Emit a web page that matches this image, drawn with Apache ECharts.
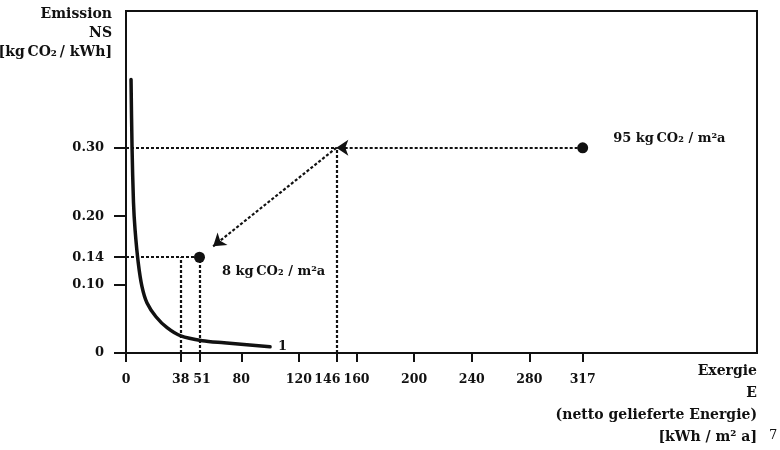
<!DOCTYPE html>
<html><head><meta charset="utf-8">
<script src="https://cdn.jsdelivr.net/npm/echarts@6/dist/echarts.min.js"></script>
<style>html,body{margin:0;padding:0;background:#fff}#c{width:780px;height:450px}</style>
</head><body><div id="c"></div>
<script>
// x-axis tick values (Exergie, kWh/m²a)
var xTicks = [0, 38, 51, 80, 120, 146, 160, 200, 240, 280, 317];
// y-axis tick values (Emission, kg CO2/kWh)
var yTicks = [0, 0.10, 0.14, 0.20, 0.30];
// curve "1": emission factor vs. exergy
var curveX = [3.5, 4.2, 5.2, 6.3, 8.5, 11.1, 14.6, 20.8, 28.5, 38, 53, 68, 100];
var curveY = [0.40, 0.30, 0.22, 0.18, 0.132, 0.097, 0.073, 0.053, 0.037, 0.025, 0.018, 0.015, 0.009];
// the two marked states
var pointX = [317, 51];
var pointY = [0.30, 0.14];
var pointLabels = ['95 kg\u2009CO\u2082 / m\u00b2a', '8 kg\u2009CO\u2082 / m\u00b2a'];
// guide lines
var guideFrom = [[0, 0.30], [146, 0], [0, 0.14], [38, 0], [51, 0]];
var guideTo   = [[146, 0.30], [146, 0.30], [51, 0.14], [38, 0.14], [51, 0.14]];
// arrows
var arrowFrom = [[317, 0.30], [146, 0.30]];
var arrowTo   = [[146, 0.30], [51, 0.14]];

var FONT = 'DejaVu Serif';
var INK = '#111';
var chart = echarts.init(document.getElementById('c'));

var curveData = curveX.map(function (x, i) { return [x, curveY[i]]; });
var guides = guideFrom.map(function (f, i) { return { coords: [f, guideTo[i]] }; });
var arrows = arrowFrom.map(function (f, i) {
  var t = arrowTo[i];
  var k = i === 1 ? 0.9 : 1; // stop short of the dot
  return { coords: [f, [f[0] + (t[0] - f[0]) * k, f[1] + (t[1] - f[1]) * k]] };
});

chart.setOption({
  animation: false,
  grid: { left: 126, right: 23, top: 11, bottom: 97, show: true, borderColor: INK, borderWidth: 2, outerBoundsMode: 'none' },
  xAxis: {
    type: 'value', min: 0, max: 438,
    splitLine: { show: false },
    axisLine: { show: true, onZero: false, lineStyle: { color: INK, width: 2 } },
    axisTick: { show: true, length: 9, lineStyle: { color: INK, width: 2 }, customValues: xTicks },
    axisLabel: { customValues: xTicks, margin: 20, color: INK, fontFamily: FONT, fontWeight: 'bold', fontSize: 12.5,
      formatter: function (v) {
        if (v === 146) return '{l|146}';
        if (v === 51) return '{r|51}';
        return String(v);
      },
      rich: {
        l: { padding: [0, 18, 0, 0], fontFamily: FONT, fontWeight: 'bold', fontSize: 12.5, color: INK },
        r: { padding: [0, 0, 0, 5], fontFamily: FONT, fontWeight: 'bold', fontSize: 12.5, color: INK }
      } }
  },
  yAxis: {
    type: 'value', min: 0, max: 0.5,
    splitLine: { show: false },
    axisLine: { show: true, onZero: false, lineStyle: { color: INK, width: 2 } },
    axisTick: { show: true, length: 12, lineStyle: { color: INK, width: 2 }, customValues: yTicks },
    axisLabel: { customValues: yTicks, margin: 22, color: INK, fontFamily: FONT, fontWeight: 'bold', fontSize: 13,
      formatter: function (v) { return v === 0 ? '0' : v.toFixed(2); } }
  },
  series: [
    { type: 'lines', coordinateSystem: 'cartesian2d', silent: true, symbol: ['none', 'none'],
      lineStyle: { color: INK, width: 2.2, type: [3, 2], opacity: 1 }, data: guides, z: 2 },
    { type: 'lines', coordinateSystem: 'cartesian2d', silent: true, symbol: ['none', 'arrow'], symbolSize: 12,
      lineStyle: { color: INK, width: 2.2, type: [3, 2], opacity: 1 }, data: arrows, z: 3 },
    { type: 'line', data: curveData, smooth: 0.3, symbol: 'none', z: 4,
      lineStyle: { color: INK, width: 3.5, join: 'round', cap: 'round' },
      endLabel: { show: true, formatter: '1', color: INK, fontFamily: FONT, fontWeight: 'bold', fontSize: 13, distance: 8 } },
    { type: 'scatter', symbolSize: 11, z: 5, itemStyle: { color: INK, opacity: 1 },
      data: pointX.map(function (x, i) {
        return { value: [x, pointY[i]], label: { show: true, formatter: pointLabels[i], position: 'right',
          offset: i === 0 ? [20, -9] : [12, 14], opacity: 1,
          color: INK, fontFamily: FONT, fontWeight: 'bold', fontSize: 13 } };
      }) }
  ],
  graphic: [
    { type: 'text', x: 112, y: 5, style: { text: 'Emission\nNS\n[kg\u2009CO\u2082\u2009/ kWh]', textAlign: 'right', fill: INK,
      font: 'bold 14px "' + FONT + '"', lineHeight: 19 } },
    { type: 'text', x: 757, y: 360, style: { text: 'Exergie\nE\n(netto gelieferte Energie)\n[kWh / m\u00b2 a]', textAlign: 'right', fill: INK,
      font: 'bold 14px "' + FONT + '"', lineHeight: 22 } },
    { type: 'text', x: 769, y: 429, style: { text: '7', fill: INK, font: '13px "' + FONT + '"' } }
  ]
});
</script></body></html>
